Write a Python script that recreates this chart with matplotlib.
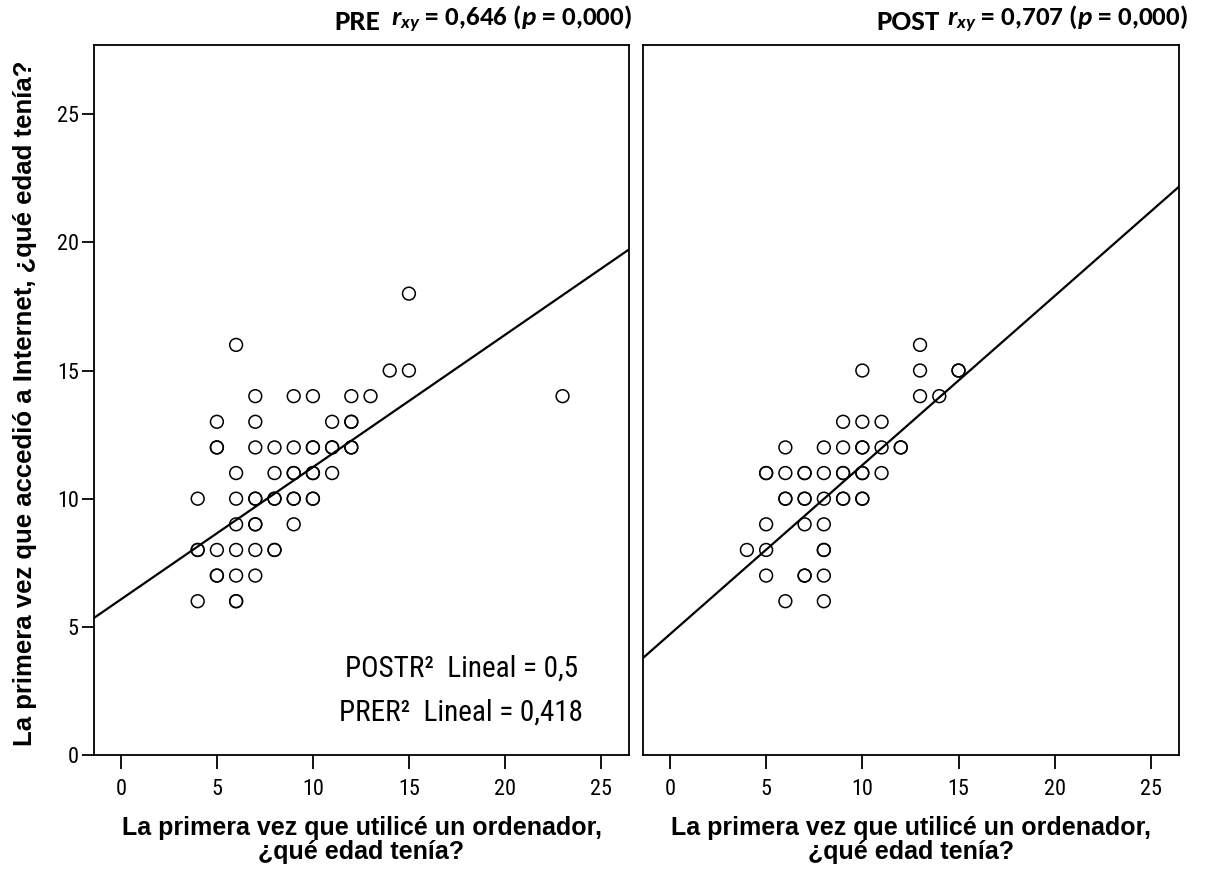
import numpy as np
import matplotlib
matplotlib.use('Agg')
import matplotlib.pyplot as plt

plt.rcParams['font.family'] = ['Roboto Condensed', 'DejaVu Sans']
plt.rcParams['mathtext.fontset'] = 'custom'
plt.rcParams['mathtext.it'] = 'Carlito:italic:bold'
plt.rcParams['mathtext.rm'] = 'Carlito:bold'

### DATA ###
# PRE: (age first computer, age first internet); repeated pairs = overlapping points
pre_x = [15, 6, 14, 15,
         7, 9, 10, 12, 13, 23,
         5, 7, 11, 12, 12,
         5, 5, 7, 8, 9, 10, 10, 11, 11, 12, 12,
         6, 8, 9, 9, 10, 10, 11,
         4, 6, 7, 7, 8, 8, 9, 9, 10, 10,
         6, 7, 7, 9,
         4, 4, 5, 6, 7, 8, 8,
         5, 5, 6, 7,
         4, 6, 6]
pre_y = [18, 16, 15, 15,
         14, 14, 14, 14, 14, 14,
         13, 13, 13, 13, 13,
         12, 12, 12, 12, 12, 12, 12, 12, 12, 12, 12,
         11, 11, 11, 11, 11, 11, 11,
         10, 10, 10, 10, 10, 10, 10, 10, 10, 10,
         9, 9, 9, 9,
         8, 8, 8, 8, 8, 8, 8,
         7, 7, 7, 7,
         6, 6, 6]

# POST
post_x = [13,
          10, 13, 15, 15,
          13, 14,
          9, 10, 11,
          6, 8, 9, 10, 10, 11, 12, 12,
          5, 5, 6, 7, 7, 8, 9, 9, 10, 10, 11,
          6, 6, 7, 7, 8, 9, 9, 10, 10,
          5, 7, 8,
          4, 5, 8, 8,
          5, 7, 7, 8,
          6, 8]
post_y = [16,
          15, 15, 15, 15,
          14, 14,
          13, 13, 13,
          12, 12, 12, 12, 12, 12, 12, 12,
          11, 11, 11, 11, 11, 11, 11, 11, 11, 11, 11,
          10, 10, 10, 10, 10, 10, 10, 10, 10,
          9, 9, 9,
          8, 8, 8, 8,
          7, 7, 7, 7,
          6, 6]

# fitted lines (intercept, slope)
pre_fit = (6.07, 0.516)
post_fit = (4.71, 0.660)

pre_r2 = '0,418'
post_r2 = '0,5'
pre_r = '0,646'
post_r = '0,707'

xlabel = 'La primera vez que utilicé un ordenador,\n¿qué edad tenía?'
ylabel = 'La primera vez que accedió a Internet, ¿qué edad tenía?'

### FIGURE ###
fig = plt.figure(figsize=(12.07, 8.77), dpi=100)
ax1 = fig.add_axes([94/1207, 1-755/877, 535/1207, 710/877])
ax2 = fig.add_axes([643/1207, 1-755/877, 536/1207, 710/877])

xlim = (-1.4, 26.46)
for ax, xs, ys, fit in [(ax1, pre_x, pre_y, pre_fit), (ax2, post_x, post_y, post_fit)]:
    ax.scatter(xs, ys, s=85, facecolors='none', edgecolors='black',
               linewidths=1.1, zorder=3)
    xx = np.array(xlim)
    ax.plot(xx, fit[0] + fit[1]*xx, color='black', linewidth=1.6, zorder=2)
    ax.set_xlim(*xlim)
    ax.set_ylim(0, 27.7)
    ax.set_xticks([0, 5, 10, 15, 20, 25])
    ax.tick_params(axis='x', direction='out', length=10, width=1.3,
                   labelsize=16, pad=7)
    for s in ax.spines.values():
        s.set_linewidth(1.3)
    ax.set_xlabel(xlabel, fontsize=18, fontweight='bold', labelpad=12,
                  linespacing=1.0, family='Liberation Sans')

ax1.set_yticks([0, 5, 10, 15, 20, 25])
ax1.tick_params(axis='y', direction='out', length=9, width=1.3,
                labelsize=16, pad=2)
ax2.set_yticks([])

ax1.text(0.905, 0.122, 'POSTR²  Lineal = ' + post_r2, transform=ax1.transAxes,
         ha='right', va='center', fontsize=21)
ax1.text(0.914, 0.06, 'PRER²  Lineal = ' + pre_r2, transform=ax1.transAxes,
         ha='right', va='center', fontsize=21)

fig.text(25/1207, 1-403/877, ylabel, rotation=90, ha='center', va='center',
         fontsize=18.5, fontweight='bold', family='Liberation Sans')

# titles
fig.text(380/1207, 1-30/877, 'PRE', ha='right', va='baseline',
         fontsize=21, fontweight='bold', family='Carlito')
fig.text(632/1207, 1-26/877,
         r'$\mathit{r}_{\mathit{xy}}$ = ' + pre_r + r' ($\mathit{p}$ = 0,000)',
         ha='right', va='baseline', fontsize=19.5, fontweight='bold', family='Carlito')
fig.text(940/1207, 1-30/877, 'POST', ha='right', va='baseline',
         fontsize=21, fontweight='bold', family='Carlito')
fig.text(1188/1207, 1-26/877,
         r'$\mathit{r}_{\mathit{xy}}$ = ' + post_r + r' ($\mathit{p}$ = 0,000)',
         ha='right', va='baseline', fontsize=19.5, fontweight='bold', family='Carlito')

fig.savefig('out.png', dpi=100)
